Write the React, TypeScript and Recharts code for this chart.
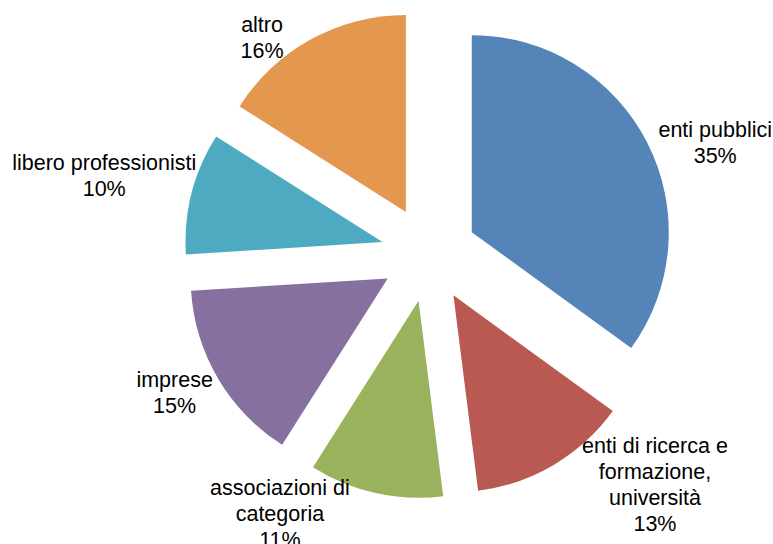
import { PieChart, Pie, Cell } from 'recharts';

// slice order: clockwise from 12 o'clock
const categories = [
  'enti pubblici',
  'enti di ricerca e formazione, università',
  'associazioni di categoria',
  'imprese',
  'libero professionisti',
  'altro',
];
const shares = [35, 13, 11, 15, 10, 16];
const labelLines = [
  ['enti pubblici'],
  ['enti di ricerca e', 'formazione,', 'università'],
  ['associazioni di', 'categoria'],
  ['imprese'],
  ['libero professionisti'],
  ['altro'],
];
const colors = ['#5585B8', '#B95A52', '#9BB25D', '#8570A0', '#4EAAC1', '#E3974F'];

const data = categories.map((name, i) => ({ name, value: shares[i] }));
const total = shares.reduce((a, b) => a + b, 0);

const W = 773;
const H = 544;
const CX = 429;
const CY = 254;
const R = 197;
const EXPLODE = 48;
const RAD = Math.PI / 180;
const FONT = '"Liberation Sans", Arial, sans-serif';

// label placement tweaks (deg clockwise from slice middle, distance from centre)
const labelTurn = [5.8, -13.8, 17.2, 1.9, -0.9, -8.9];
const labelDist = [307, 323, 300, 290, 334, 273];

// mid angle of each slice in recharts convention (ccw from east)
const midAngles = shares.map((v, i) => {
  const before = shares.slice(0, i).reduce((a, b) => a + b, 0);
  return 90 - ((before + v / 2) / total) * 360;
});

function makeLabel(slice: number) {
  return (props: any) => {
    const { index, midAngle, percent } = props;
    if (index !== slice) return null;
    const a = (midAngle - labelTurn[index]) * RAD;
    const x = CX + labelDist[index] * Math.cos(a);
    const y = CY - labelDist[index] * Math.sin(a);
    const lines = [...labelLines[index], `${Math.round(percent * 100)}%`];
    const lh = 26;
    const y0 = y - ((lines.length - 1) * lh) / 2;
    return (
      <g key={`lbl-${index}`}>
        {lines.map((t, k) => (
          <text
            key={k}
            x={x}
            y={y0 + k * lh}
            textAnchor="middle"
            dominantBaseline="central"
            fill="#000"
            fontSize={21.5}
            fontFamily={FONT}
          >
            {t}
          </text>
        ))}
      </g>
    );
  };
}

export default function App() {
  return (
    <div style={{ position: 'absolute', left: 0, top: 0, width: W, height: H, background: '#fff' }}>
      <PieChart width={W} height={H} margin={{ top: 0, right: 0, bottom: 0, left: 0 }}>
        {data.map((_, s) => (
          <Pie
            key={s}
            data={data}
            dataKey="value"
            nameKey="name"
            cx={CX + EXPLODE * Math.cos(midAngles[s] * RAD)}
            cy={CY - EXPLODE * Math.sin(midAngles[s] * RAD)}
            outerRadius={R}
            innerRadius={0}
            startAngle={90}
            endAngle={-270}
            stroke="none"
            labelLine={false}
            label={makeLabel(s)}
            isAnimationActive={false}
          >
            {data.map((d, j) => (
              <Cell key={d.name} fill={j === s ? colors[j] : 'none'} stroke="none" />
            ))}
          </Pie>
        ))}
      </PieChart>
    </div>
  );
}
